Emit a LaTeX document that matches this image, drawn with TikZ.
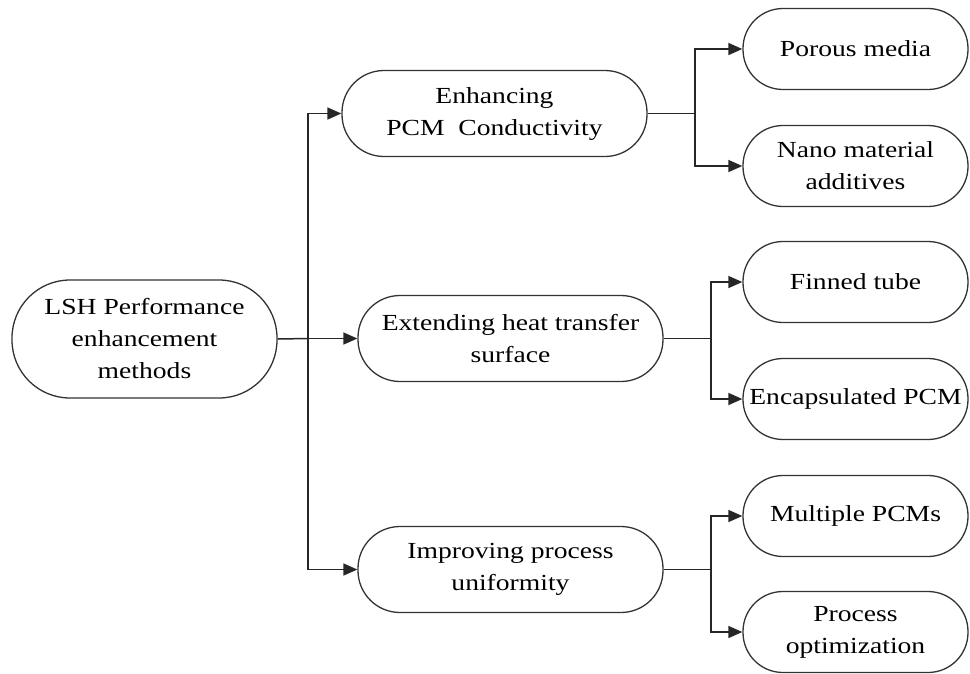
\documentclass[tikz,border=0pt]{standalone}
\usepackage{fontspec}
\setmainfont{Liberation Serif}[FakeStretch=1.2]
\usetikzlibrary{arrows.meta}
\begin{document}
\begin{tikzpicture}[x=1pt,y=-1pt,
  pill/.style={draw=black!80,line width=1.3pt,rounded corners=#1,align=center,
    font=\fontsize{23}{32}\selectfont,inner sep=0pt},
  leaf/.style={pill=40pt,minimum width=225pt,minimum height=81pt},
  midn/.style={pill=42pt,minimum width=305pt,minimum height=86pt},
  conn/.style={draw=black!85,line width=1.5pt},
  arr/.style={conn,-{Triangle[length=14pt,width=12pt]}}]
\useasboundingbox (0,0) rectangle (970,673);
\node[pill=58pt,minimum width=265pt,minimum height=118pt] (root) at (144.5,339) {LSH Performance\\enhancement\\methods};
\node[midn] (m1) at (494.5,113.5) {Enhancing\\PCM\ \ Conductivity};
\node[midn] (m2) at (510.5,338.5) {Extending heat transfer\\surface};
\node[midn] (m3) at (510.5,569.5) {Improving process\\uniformity};
\node[leaf] (l1) at (855.5,49) {Porous media};
\node[leaf] (l2) at (855.5,166) {Nano material\\additives};
\node[leaf] (l3) at (855.5,282) {Finned tube};
\node[leaf] (l4) at (855.5,399) {Encapsulated PCM};
\node[leaf] (l5) at (855.5,516) {Multiple PCMs};
\node[leaf] (l6) at (855.5,632) {Process\\optimization};
\coordinate (j0) at (308,338.5);
\coordinate (j1) at (695,113.5);
\coordinate (j2) at (711,338.5);
\coordinate (j3) at (711,569.5);
\draw[conn] (root.east) -- (j0);
\draw[arr] (j0) -- (m2.west);
\draw[arr] (j0) |- (m1.west);
\draw[arr] (j0) |- (m3.west);
\draw[conn] (m1.east) -- (j1);
\draw[arr] (j1) |- (l1.west);
\draw[arr] (j1) |- (l2.west);
\draw[conn] (m2.east) -- (j2);
\draw[arr] (j2) |- (l3.west);
\draw[arr] (j2) |- (l4.west);
\draw[conn] (m3.east) -- (j3);
\draw[arr] (j3) |- (l5.west);
\draw[arr] (j3) |- (l6.west);
\end{tikzpicture}
\end{document}
